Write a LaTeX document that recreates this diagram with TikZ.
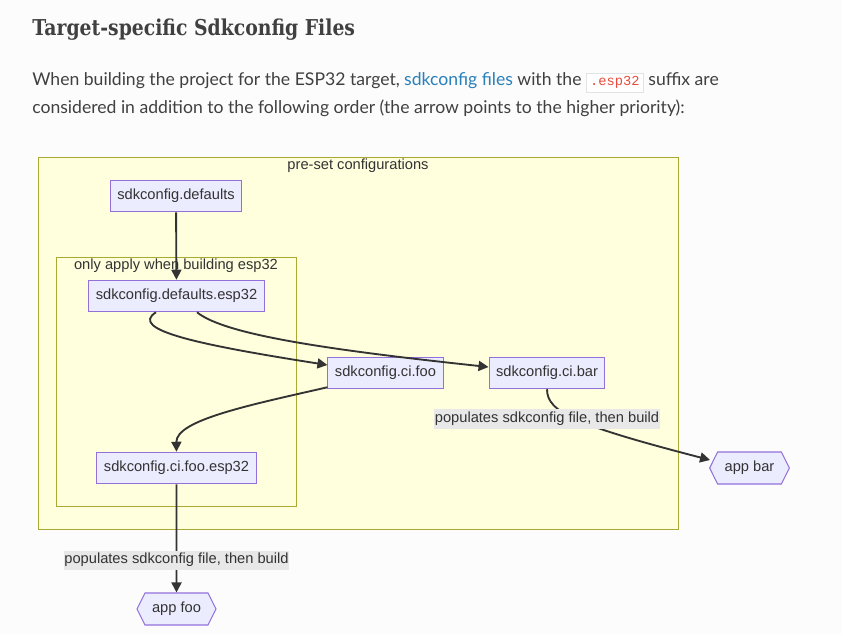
\documentclass[tikz,border=0pt]{standalone}
\usepackage{fontspec}
\usepackage{xcolor}
\setmainfont{Lato}
\setsansfont{Liberation Sans}
\setmonofont{Liberation Mono}
\newfontfamily\headfont[FakeStretch=0.86]{DejaVu Serif}
\usetikzlibrary{shapes.symbols,arrows.meta,calc}
\definecolor{pagebg}{HTML}{FCFCFC}
\definecolor{bodygray}{HTML}{404040}
\definecolor{linkblue}{HTML}{2980B9}
\definecolor{codered}{HTML}{E74C3C}
\definecolor{codeline}{HTML}{E1E4E5}
\definecolor{boxfill}{HTML}{ECECFF}
\definecolor{boxline}{HTML}{9370DB}
\definecolor{groupfill}{HTML}{FFFFDE}
\definecolor{groupline}{HTML}{AAAA33}
\definecolor{arrowgray}{HTML}{333333}
\definecolor{labelbg}{HTML}{E8E8E8}
\newcommand{\codebox}[1]{{\setlength{\fboxsep}{2.4pt}\setlength{\fboxrule}{0.75pt}\fcolorbox{codeline}{white}{\fontsize{10.3pt}{11pt}\ttfamily\color{codered}#1}}}

\begin{document}
\begin{tikzpicture}[x=0.75pt,y=-0.75pt]
\tikzstyle{bodytext}=[inner sep=0pt,anchor=base west,text=bodygray,font=\fontsize{13.2pt}{16pt}\selectfont]
\tikzstyle{cfgbox}=[draw=boxline,fill=boxfill,line width=0.8pt,text=arrowgray,font=\sffamily\fontsize{11pt}{13pt}\selectfont,inner xsep=5.25pt,minimum height=23.6pt]
\tikzstyle{appbox}=[cfgbox,shape=signal,signal to=west and east,signal pointer angle=127,minimum width=59.25pt,minimum height=24pt]
\tikzstyle{group}=[draw=groupline,fill=groupfill,line width=0.7pt]
\tikzstyle{grouptitle}=[inner sep=0pt,text=arrowgray,font=\sffamily\fontsize{11pt}{13pt}\selectfont]
\tikzstyle{edge}=[draw=arrowgray,line width=1.4pt,-{Triangle[length=7.5pt,width=7.5pt]}]
\tikzstyle{edgelabel}=[fill=labelbg,inner xsep=0.5pt,inner ysep=2pt,text=arrowgray,font=\sffamily\fontsize{11pt}{13pt}\selectfont]
\fill [pagebg] (0,0) rectangle (842,634);
\useasboundingbox (0,0) rectangle (842,634);
\node [bodytext,font=\headfont\bfseries\fontsize{16.4pt}{20pt}\selectfont] (heading) at (32,36) {Target-specific Sdkconfig Files};
\node [bodytext] (line1) at (32,86) {When building the project for the ESP32 target, \textcolor{linkblue}{sdkconfig files} with the \codebox{.esp32} suffix are};
\node [bodytext] (line2) at (32,114) {considered in addition to the following order (the arrow points to the higher priority):};
\draw [group] (38,157) rectangle (678,529);
\node [grouptitle] (presettitle) at (358,166) {pre-set configurations};
\draw [group] (56,257) rectangle (296,506);
\node [grouptitle] (esp32title) at (176,266) {only apply when building esp32};
\node [cfgbox] (defaults) at (176,196) {sdkconfig.defaults};
\node [cfgbox] (defaultsesp) at (176.5,296) {sdkconfig.defaults.esp32};
\node [cfgbox] (cifoo) at (385.5,373) {sdkconfig.ci.foo};
\node [cfgbox] (cibar) at (547,373) {sdkconfig.ci.bar};
\node [cfgbox] (cifooesp) at (176.5,468) {sdkconfig.ci.foo.esp32};
\node [appbox] (appbar) at (749.5,468) {app bar};
\node [appbox] (appfoo) at (176.5,609) {app foo};
\draw [edge] (defaults) -- (defaultsesp);
\draw [edge] ($(defaultsesp.south)+(-20.5,0)$) .. controls (128,330) and (200,345) .. ($(cifoo.west)+(0,-8)$);
\draw [edge] ($(defaultsesp.south)+(20.5,0)$) .. controls (225,335) and (330,350) .. ($(cibar.west)+(0,-6)$);
\draw [edge] ($(cifoo.south west)+(0,-2)$) .. controls (250,405) and (176,420) .. (cifooesp.north);
\draw [edge] (cibar.south) .. controls (547,412) and (575,425) .. ($(appbar.west)+(1,-8)$) node [edgelabel,at={(547,419)}] (barlabel) {populates sdkconfig file, then build};
\draw [edge] (cifooesp) -- (appfoo) node [edgelabel,at={(176.5,560)}] (foolabel) {populates sdkconfig file, then build};
\end{tikzpicture}
\end{document}
